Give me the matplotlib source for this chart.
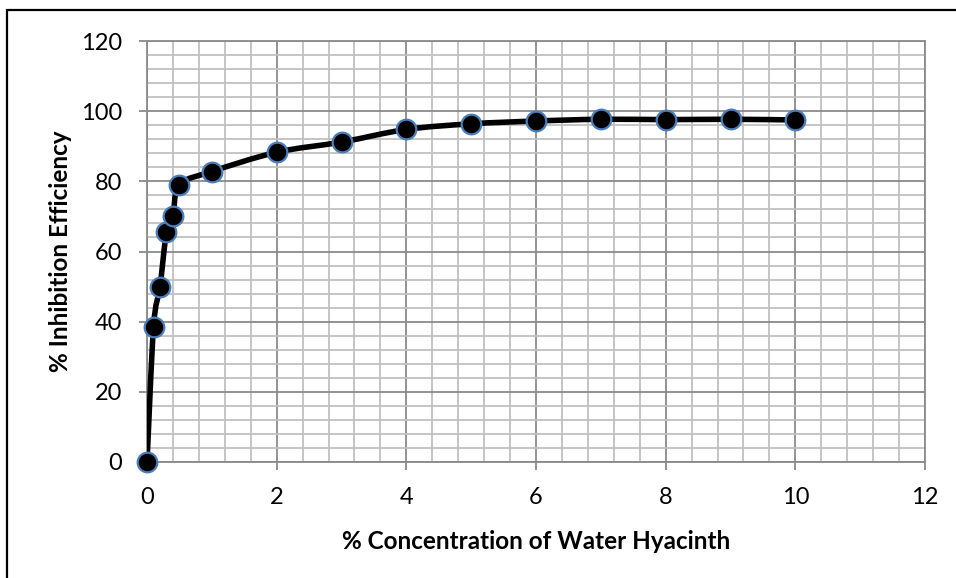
import numpy as np
import matplotlib
matplotlib.use("Agg")
import matplotlib.pyplot as plt
from matplotlib.path import Path
from matplotlib.patches import PathPatch, Rectangle
from matplotlib.ticker import MultipleLocator

plt.rcParams['font.family'] = ['Lato', 'DejaVu Sans']

# data
conc = [0, 0.1, 0.2, 0.3, 0.4, 0.5, 1, 2, 3, 4, 5, 6, 7, 8, 9, 10]
efficiency = [0, 38.5, 50, 65.5, 70, 79, 82.8, 88.3, 91.2, 94.8, 96.4, 97.2, 97.7, 97.6, 97.7, 97.5]

x_label = "% Concentration of Water Hyacinth"
y_label = "% Inhibition Efficiency"


def smooth_path(xs, ys):
    """
    Catmull-Rom style bezier through the points (like Excel's smoothed line)
    """
    pts = np.column_stack([xs, ys]).astype(float)
    verts = [pts[0]]
    codes = [Path.MOVETO]
    n = len(pts)
    for i in range(n - 1):
        p0 = pts[max(i - 1, 0)]
        p1 = pts[i]
        p2 = pts[i + 1]
        p3 = pts[min(i + 2, n - 1)]
        c1 = p1 + (p2 - p0) / 6.0
        c2 = p2 - (p3 - p1) / 6.0
        verts += [c1, c2, p2]
        codes += [Path.CURVE4] * 3
    return Path(verts, codes)


fig = plt.figure(figsize=(9.56, 5.78), dpi=100)
ax = fig.add_axes([0.1538, 0.2007, 0.8138, 0.7283])

ax.set_xlim(0, 12)
ax.set_ylim(0, 120)
ax.xaxis.set_major_locator(MultipleLocator(2))
ax.xaxis.set_minor_locator(MultipleLocator(0.4))
ax.yaxis.set_major_locator(MultipleLocator(20))
ax.yaxis.set_minor_locator(MultipleLocator(4))

ax.grid(which='minor', color='#c0c0c0', linewidth=1.3)
ax.grid(which='major', color='#8a8a8a', linewidth=1.3)
ax.set_axisbelow(True)

for side in ['left', 'bottom', 'top', 'right']:
    ax.spines[side].set_color('#8a8a8a')
    ax.spines[side].set_linewidth(1.3)

ax.tick_params(which='major', direction='out', length=6, width=1.3, color='#8a8a8a',
               labelsize=17)
ax.tick_params(axis='x', pad=12)
ax.tick_params(axis='y', pad=12)
ax.tick_params(which='minor', length=0)

line = PathPatch(smooth_path(conc, efficiency), facecolor='none', edgecolor='black',
                 linewidth=4, zorder=3, capstyle='round', joinstyle='round')
ax.add_patch(line)
ax.scatter(conc, efficiency, s=200, facecolor='black', edgecolor='#4a7ebb',
           linewidth=1.6, zorder=4, clip_on=False)

ax.set_xlabel(x_label, fontsize=17.5, fontweight='bold', va='center')
ax.set_ylabel(y_label, fontsize=17.5, fontweight='bold', va='center')
ax.xaxis.set_label_coords(0.5, (462 - 542) / 421)
ax.yaxis.set_label_coords((60 - 147) / 778, 0.5)

# outer chart frame (only left and top edges are visible in the crop)
fig.patches.append(Rectangle((7 / 956, -0.05), 1.2, 1 - 10 / 578 + 0.05,
                             transform=fig.transFigure, fill=False,
                             edgecolor='black', linewidth=1.6))

fig.savefig("out.png", dpi=100)
